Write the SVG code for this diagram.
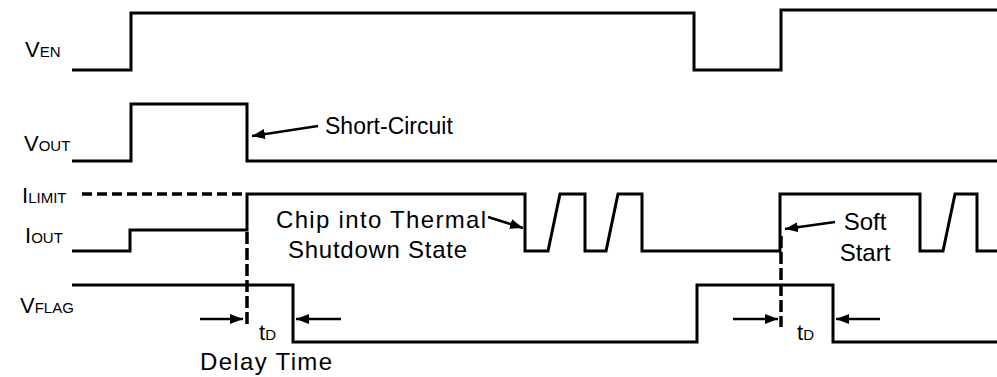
<svg xmlns="http://www.w3.org/2000/svg" width="997" height="377" viewBox="0 0 997 377">
<defs>
<marker id="ah" viewBox="0 0 13 10" refX="13" refY="5" markerWidth="13" markerHeight="10" markerUnits="userSpaceOnUse" orient="auto">
<path d="M0,0 L13,5 L0,10 Z" fill="#000"/>
</marker>
</defs>
<style>
.sig{fill:none;stroke:#000;stroke-width:3;stroke-linejoin:miter}
.dash{fill:none;stroke:#000;stroke-width:3.5;stroke-dasharray:10 5}
.vdash{fill:none;stroke:#000;stroke-width:3.5;stroke-dasharray:12 4}
.arr{fill:none;stroke:#000;stroke-width:2.5;marker-end:url(#ah)}
text{font-family:"Liberation Sans",Arial,sans-serif;fill:#000}
.lb{font-size:22px}
.sb{font-size:15px}
.t{font-size:24px}
</style>
<g id="labels">
<text class="lb" x="25" y="57">V<tspan class="sb">EN</tspan></text>
<text class="lb" x="24" y="151">V<tspan class="sb">OUT</tspan></text>
<text class="lb" x="22" y="203">I<tspan class="sb">LIMIT</tspan></text>
<text class="lb" x="25" y="243">I<tspan class="sb">OUT</tspan></text>
<text class="lb" x="20" y="313">V<tspan class="sb">FLAG</tspan></text>
</g>
<g id="signals">
<path id="ven" class="sig" d="M72,70 H131 V13 H694 V70 H781 V10 H997"/>
<path id="vout" class="sig" d="M72,161 H131 V104 H247 V161 H997"/>
<path id="iout" class="sig" d="M72,251 H130 V230 H247 V194 H525 V251 H548 L560,194 H585 V251 H606 L618,194 H642 V251 H780 V194 H920 V251 H943 L955,194 H977 V251 H997"/>
<path id="vflag" class="sig" d="M72,285 H293 V342 H697 V285 H833 V342 H997"/>
</g>
<g id="connectors">
<path class="dash" d="M82,194 H247"/>
<path class="vdash" d="M247,232 V327"/>
<path class="vdash" d="M781,236 V327"/>
<path class="arr" d="M318,126 L252,136"/>
<path class="arr" d="M488,217 L523,228"/>
<path class="arr" d="M835,222 L785,229"/>
<path class="arr" d="M200,319 H243"/>
<path class="arr" d="M341,319 H296"/>
<path class="arr" d="M733,319 H778"/>
<path class="arr" d="M880,319 H836"/>
</g>
<g id="annotations">
<text x="325" y="134" style="font-size:23px">Short-Circuit</text>
<text class="t" x="276" y="228" textLength="210">Chip into Thermal</text>
<text class="t" x="288" y="258" textLength="179">Shutdown State</text>
<text class="t" x="865" y="230" text-anchor="middle">Soft</text>
<text class="t" x="865" y="261" text-anchor="middle">Start</text>
<text class="lb" x="259" y="340">t<tspan class="sb">D</tspan></text>
<text class="lb" x="797" y="340">t<tspan class="sb">D</tspan></text>
<text class="t" x="200" y="370" textLength="132">Delay Time</text>
</g>
</svg>
